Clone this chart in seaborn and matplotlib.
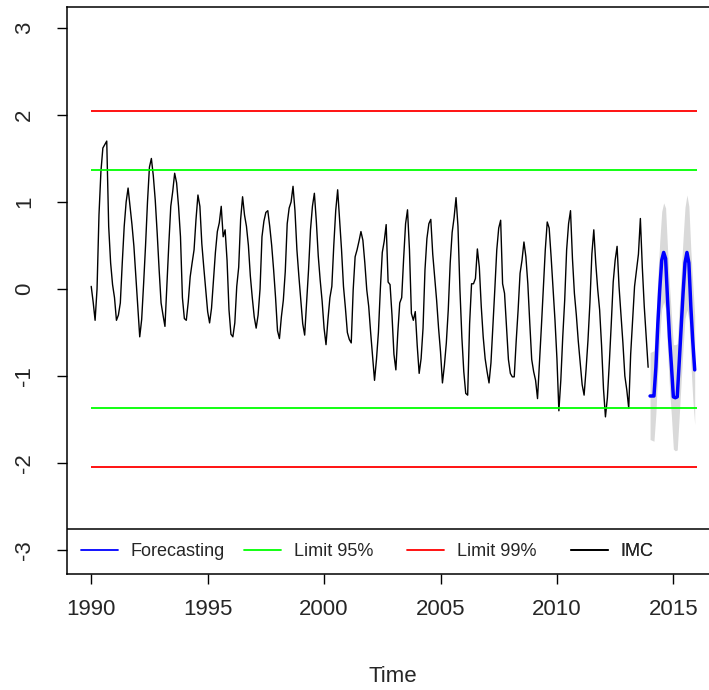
import matplotlib
matplotlib.use("Agg")
import matplotlib.pyplot as plt
from matplotlib.lines import Line2D
import seaborn as sns
import pandas as pd

# IMC monthly series, one row per year (Jan..Dec)
imc_start = 1990
imc = [
    [0.03, -0.15, -0.36, 0.00, 0.85, 1.35, 1.62, 1.66, 1.70, 0.72, 0.30, 0.05],    # 1990
    [-0.10, -0.36, -0.30, -0.16, 0.30, 0.72, 1.00, 1.16, 0.95, 0.74, 0.49, 0.14],  # 1991
    [-0.20, -0.55, -0.35, 0.06, 0.50, 1.00, 1.40, 1.50, 1.30, 1.02, 0.64, 0.22],   # 1992
    [-0.16, -0.30, -0.43, 0.05, 0.52, 0.95, 1.12, 1.33, 1.22, 0.95, 0.60, -0.10],  # 1993
    [-0.34, -0.36, -0.15, 0.14, 0.30, 0.45, 0.80, 1.08, 0.95, 0.52, 0.25, 0.00],   # 1994
    [-0.26, -0.39, -0.22, 0.10, 0.42, 0.66, 0.76, 0.95, 0.60, 0.68, 0.33, -0.24],  # 1995
    [-0.52, -0.55, -0.39, 0.03, 0.25, 0.80, 1.06, 0.85, 0.72, 0.50, 0.15, -0.10],  # 1996
    [-0.32, -0.45, -0.30, 0.00, 0.60, 0.78, 0.88, 0.90, 0.72, 0.50, 0.22, -0.10],  # 1997
    [-0.48, -0.57, -0.32, -0.13, 0.20, 0.75, 0.93, 1.00, 1.18, 0.90, 0.45, 0.15],  # 1998
    [-0.12, -0.40, -0.53, -0.16, 0.22, 0.68, 0.95, 1.10, 0.78, 0.38, 0.10, -0.14], # 1999
    [-0.45, -0.64, -0.35, -0.10, 0.03, 0.50, 0.90, 1.14, 0.80, 0.45, 0.03, -0.22], # 2000
    [-0.50, -0.58, -0.62, -0.01, 0.37, 0.45, 0.55, 0.66, 0.56, 0.30, -0.01, -0.20],# 2001
    [-0.50, -0.78, -1.05, -0.81, -0.50, 0.00, 0.42, 0.55, 0.74, 0.08, 0.05, -0.30],# 2002
    [-0.75, -0.93, -0.50, -0.16, -0.10, 0.35, 0.75, 0.91, 0.45, -0.28, -0.36, -0.26], # 2003
    [-0.65, -0.97, -0.80, -0.45, 0.22, 0.58, 0.75, 0.80, 0.40, 0.14, -0.13, -0.45],   # 2004
    [-0.72, -1.08, -0.88, -0.62, -0.24, 0.30, 0.65, 0.82, 1.05, 0.72, 0.00, -0.55],   # 2005
    [-0.95, -1.20, -1.22, -0.40, 0.06, 0.06, 0.12, 0.46, 0.25, -0.20, -0.55, -0.80],  # 2006
    [-0.95, -1.08, -0.85, -0.43, 0.00, 0.45, 0.70, 0.79, 0.06, -0.05, -0.43, -0.81],  # 2007
    [-0.97, -1.01, -1.01, -0.60, -0.24, 0.18, 0.33, 0.54, 0.37, 0.06, -0.39, -0.81],  # 2008
    [-0.95, -1.05, -1.26, -0.85, -0.43, 0.00, 0.45, 0.77, 0.70, 0.37, 0.00, -0.36],   # 2009
    [-0.80, -1.40, -1.05, -0.55, -0.13, 0.45, 0.75, 0.90, 0.35, -0.05, -0.30, -0.60], # 2010
    [-0.85, -1.10, -1.22, -0.93, -0.59, -0.16, 0.40, 0.68, 0.30, 0.00, -0.24, -0.65], # 2011
    [-1.15, -1.47, -1.25, -0.85, -0.40, 0.08, 0.33, 0.49, 0.03, -0.30, -0.62, -1.00], # 2012
    [-1.16, -1.37, -0.75, -0.35, 0.03, 0.22, 0.40, 0.81, 0.25, -0.20, -0.55, -0.90],  # 2013
]

# forecast 2014-2015 with interval
fc_start = 2014
forecast = [
    [-1.23, -1.23, -1.23, -0.90, -0.40, 0.00, 0.33, 0.42, 0.35, -0.12, -0.55, -0.88],
    [-1.24, -1.25, -1.24, -0.85, -0.45, -0.05, 0.30, 0.42, 0.30, -0.20, -0.60, -0.93],
]
fc_upper = [
    [-0.73, -0.72, -0.71, -0.37, 0.14, 0.55, 0.89, 0.99, 0.93, 0.46, 0.04, -0.30],
    [-0.64, -0.64, -0.63, -0.23, 0.17, 0.58, 0.94, 1.08, 0.95, 0.45, 0.06, -0.30],
]
fc_lower = [
    [-1.73, -1.74, -1.75, -1.43, -0.94, -0.55, -0.23, -0.15, -0.23, -0.70, -1.14, -1.46],
    [-1.84, -1.86, -1.85, -1.47, -1.07, -0.68, -0.34, -0.24, -0.35, -0.85, -1.26, -1.56],
]

limit95 = 1.37
limit99 = 2.05
limit_span = (1990, 2016)

x_ticks = [1990, 1995, 2000, 2005, 2010, 2015]
y_ticks = [-3, -2, -1, 0, 1, 2, 3]


def monthly(first_year, rows):
    t, v = [], []
    for i, row in enumerate(rows):
        for m, val in enumerate(row):
            t.append(first_year + i + m / 12)
            v.append(val)
    return t, v


t_imc, v_imc = monthly(imc_start, imc)
t_fc, v_fc = monthly(fc_start, forecast)
_, v_up = monthly(fc_start, fc_upper)
_, v_lo = monthly(fc_start, fc_lower)
df_imc = pd.DataFrame({"time": t_imc, "value": v_imc})
df_fc = pd.DataFrame({"time": t_fc, "value": v_fc, "upper": v_up, "lower": v_lo})

sns.set_style("ticks")
plt.rcParams["font.family"] = ["Liberation Sans", "DejaVu Sans"]
plt.rcParams["axes.unicode_minus"] = False

fig = plt.figure(figsize=(7.09, 6.90), dpi=100)
ax = fig.add_axes([67 / 709, 1 - 574 / 690, 652 / 709, 567 / 690])

ax.fill_between(df_fc["time"], df_fc["lower"], df_fc["upper"], color="#D9D9D9", lw=0)
sns.lineplot(data=df_imc, x="time", y="value", color="black", lw=1.0, estimator=None, ax=ax)
sns.lineplot(data=df_fc, x="time", y="value", color="#0000FF", lw=2.5, estimator=None, ax=ax)

for lim, col in [(limit95, "#00FF00"), (limit99, "#FF0000")]:
    ax.hlines([lim, -lim], limit_span[0], limit_span[1], colors=col, lw=1.3)

ax.set_xlim(1988.96, 2016.96)
ax.set_ylim(-3.276, 3.241)
ax.set_xticks(x_ticks)
ax.set_xticklabels([str(x) for x in x_ticks], fontsize=16)
ax.set_yticks(y_ticks)
ax.set_yticklabels([str(y) for y in y_ticks], fontsize=16, rotation=90, va="center")
ax.tick_params(axis="both", length=7, width=1, color="black")
ax.tick_params(axis="x", pad=11)
ax.tick_params(axis="y", pad=16)
ax.set_xlabel("Time", fontsize=16)
ax.xaxis.set_label_coords(0.5, -0.162)
ax.set_ylabel("")
for s in ax.spines.values():
    s.set_color("black")
    s.set_linewidth(1.1)

# legend strip along the bottom of the plot
ax.axhline(-2.76, color="black", lw=1.1)
entries = [("Forecasting", "#0000FF", 81), ("Limit 95%", "#00FF00", 244),
           ("Limit 99%", "#FF0000", 407), ("IMC", "black", 571)]
for label, col, px in entries:
    leg = ax.legend([Line2D([], [], color=col, lw=1.3)], [label],
                    loc="center left", bbox_to_anchor=((px - 67) / 652, 22.5 / 567),
                    frameon=False, fontsize=13, handlelength=2.05, handletextpad=0.7,
                    borderpad=0, borderaxespad=0)
    ax.add_artist(leg)

fig.savefig("out.png", dpi=100)
